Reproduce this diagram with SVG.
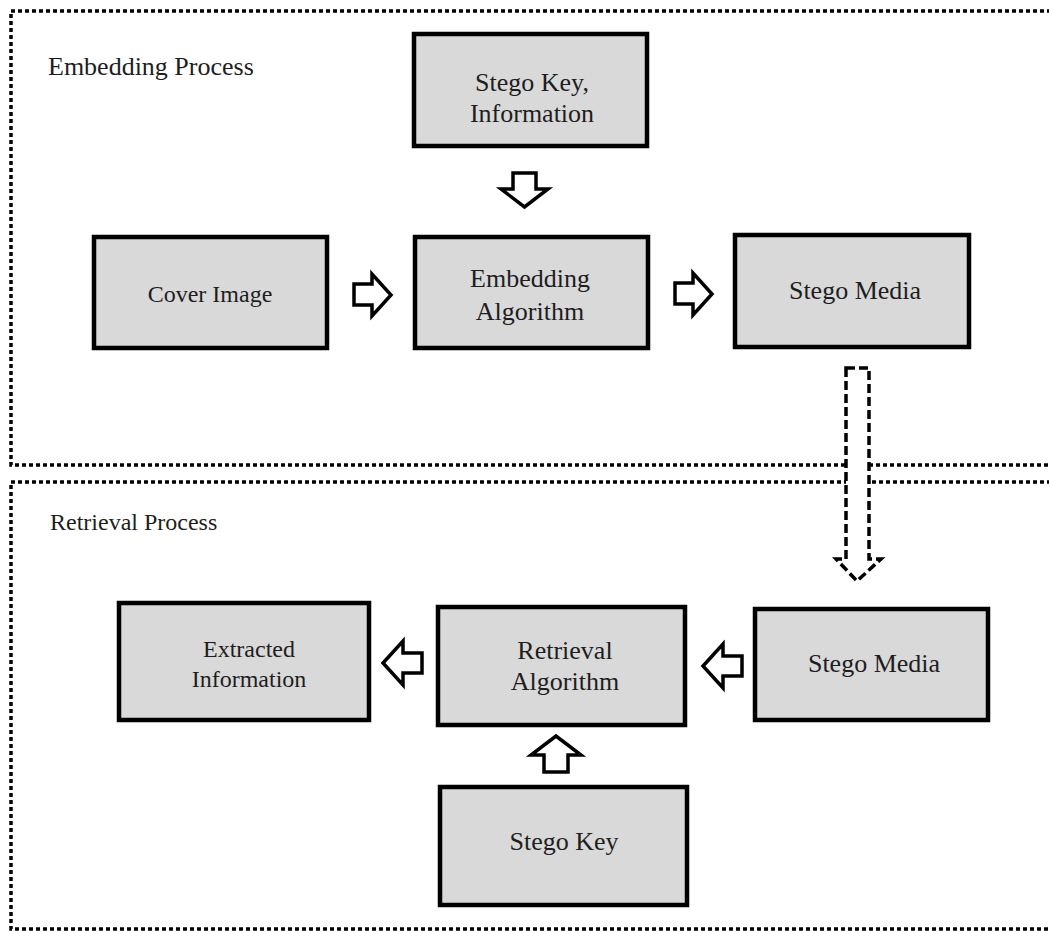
<svg xmlns="http://www.w3.org/2000/svg" width="1049" height="932" viewBox="0 0 1049 932">
  <style>
    .frame { fill: none; stroke: #000; stroke-width: 3.5; stroke-dasharray: 4 3; }
    .box { fill: #d9d9d9; stroke: #000; stroke-width: 4.5; }
    .lbl { font-family: "Liberation Serif", "Times New Roman", serif; font-size: 26px; fill: #1e1e1e; text-anchor: middle; }
    .sm { font-size: 24px; }
    .title { font-family: "Liberation Serif", "Times New Roman", serif; fill: #1e1e1e; }
    .arrow { fill: #fff; stroke: #000; stroke-width: 3.5; stroke-linejoin: miter; }
    .dashed { stroke-dasharray: 9 4; }
  </style>

  <rect width="1049" height="932" fill="#fff"/>

  <!-- section frames -->
  <g id="frames">
    <rect class="frame" x="11" y="11" width="1100" height="454"/>
    <rect class="frame" x="11" y="482" width="1100" height="447"/>
    <text class="title" x="48" y="75" font-size="26">Embedding Process</text>
    <text class="title" x="50" y="530" font-size="24">Retrieval Process</text>
  </g>

  <!-- embedding side -->
  <g id="stego-key-info">
    <rect class="box" x="414" y="34" width="233" height="112"/>
    <text class="lbl" x="532" y="91">Stego Key,</text>
    <text class="lbl" x="532" y="122">Information</text>
  </g>
  <g id="cover-image">
    <rect class="box" x="94" y="237" width="233" height="111"/>
    <text class="lbl sm" x="210" y="302">Cover Image</text>
  </g>
  <g id="embedding-algorithm">
    <rect class="box" x="415" y="237" width="233" height="111"/>
    <text class="lbl" x="530" y="287">Embedding</text>
    <text class="lbl" x="530" y="320">Algorithm</text>
  </g>
  <g id="stego-media-out">
    <rect class="box" x="735" y="235" width="234" height="112"/>
    <text class="lbl" x="855" y="299">Stego Media</text>
  </g>

  <!-- retrieval side -->
  <g id="extracted-information">
    <rect class="box" x="119" y="603" width="250" height="117"/>
    <text class="lbl sm" x="249" y="657">Extracted</text>
    <text class="lbl sm" x="249" y="687">Information</text>
  </g>
  <g id="retrieval-algorithm">
    <rect class="box" x="438" y="607" width="247" height="118"/>
    <text class="lbl" x="565" y="659">Retrieval</text>
    <text class="lbl" x="565" y="690">Algorithm</text>
  </g>
  <g id="stego-media-in">
    <rect class="box" x="755" y="609" width="233" height="111"/>
    <text class="lbl" x="874" y="672">Stego Media</text>
  </g>
  <g id="stego-key">
    <rect class="box" x="440" y="787" width="247" height="118"/>
    <text class="lbl" x="564" y="850">Stego Key</text>
  </g>

  <!-- block arrows -->
  <g id="connectors">
    <polygon class="arrow" points="513,173 536,173 536,189 548,189 524.5,207 501,189 513,189"/>
    <polygon class="arrow" points="354,284 372,284 372,274 391,295 372,316 372,305 354,305"/>
    <polygon class="arrow" points="675,283 693,283 693,273 712,294 693,315 693,304 675,304"/>
    <polygon class="arrow dashed" fill="none" points="846,368 869,368 869,559 881,559 857,581 836,559 846,559"/>
    <polygon class="arrow" points="742,656 723,656 723,644 703,666 723,688 723,676 742,676"/>
    <polygon class="arrow" points="422,653 403,653 403,641 383,663 403,685 403,673 422,673"/>
    <polygon class="arrow" points="544,772 568,772 568,755 581,755 556,736 531,755 544,755"/>
  </g>
</svg>
